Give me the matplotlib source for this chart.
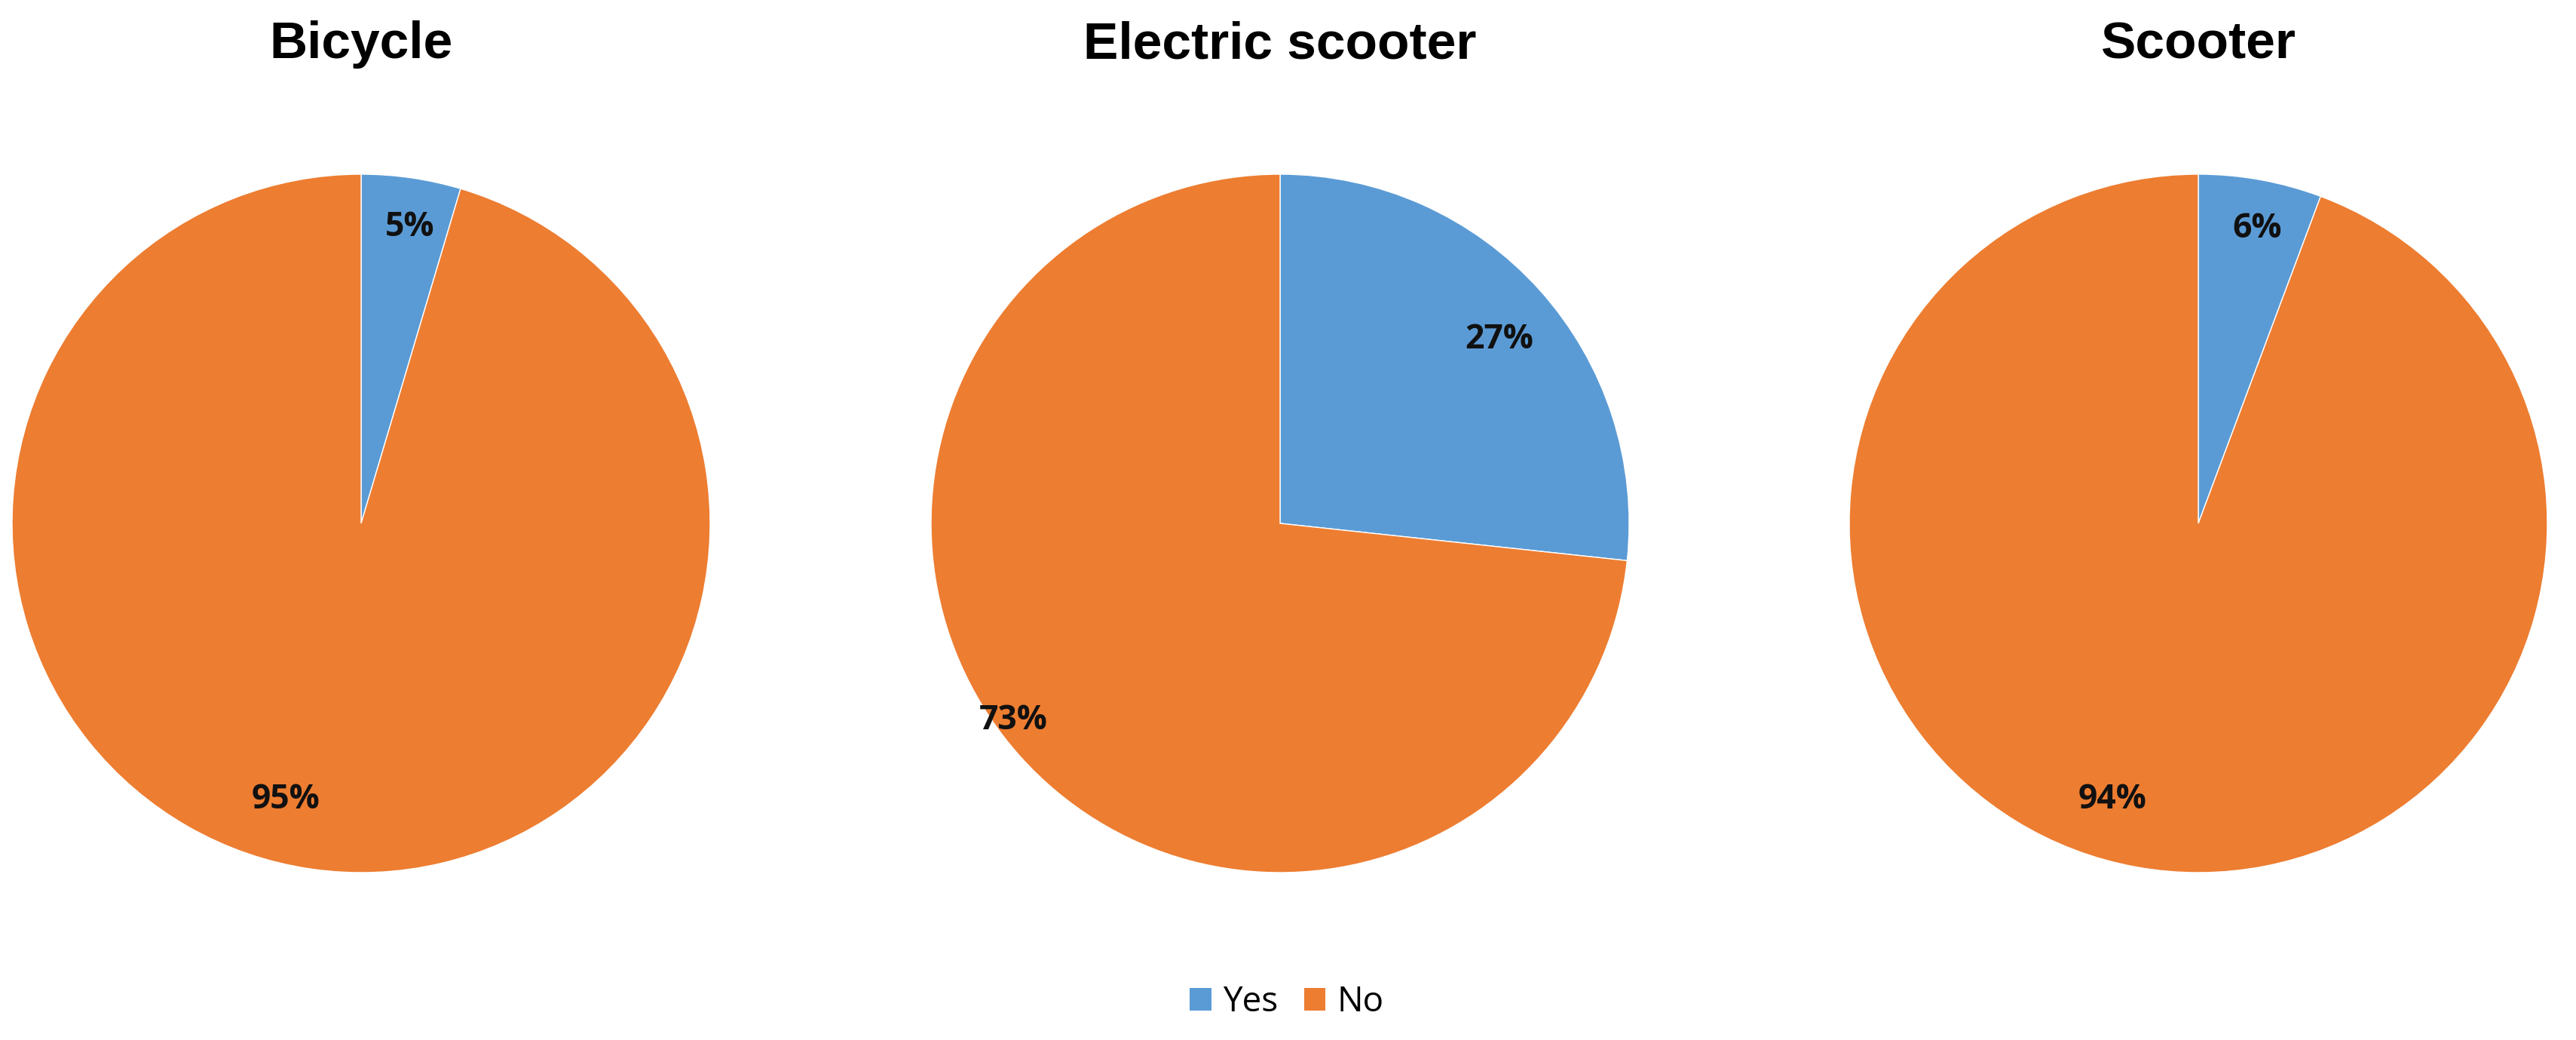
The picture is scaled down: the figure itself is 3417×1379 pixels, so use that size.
import matplotlib
matplotlib.use("Agg")
import matplotlib.pyplot as plt
from matplotlib.patches import Patch
import numpy as np

titles = ["Bicycle", "Electric scooter", "Scooter"]
categories = ["Yes", "No"]
yes_share = [4.6, 26.7, 5.7]
no_share = [95.4, 73.3, 94.3]
labels = [["5%", "95%"], ["27%", "73%"], ["6%", "94%"]]
colors = ["#5B9BD5", "#ED7D31"]

W, H = 3417, 1379
fig = plt.figure(figsize=(W / 100, H / 100), dpi=100)

centers_x = [479, 1698, 2916]
cy = 694
R = 463
label_dist = [[0.86, 0.82], [0.82, 0.95], [0.86, 0.83]]
label_angle_off = [[-1, -7], [-2, -5.5], [-1, -7]]

for i in range(3):
    ax = fig.add_axes([(centers_x[i] - R) / W, 1 - (cy + R) / H, 2 * R / W, 2 * R / H])
    wedges, _ = ax.pie([yes_share[i], no_share[i]], colors=colors, startangle=90,
                       counterclock=False, radius=1,
                       wedgeprops=dict(edgecolor="white", linewidth=1.0))
    ax.set_xlim(-1, 1)
    ax.set_ylim(-1, 1)
    ax.set_aspect("equal")
    ax.axis("off")
    for j, w in enumerate(wedges):
        mid = np.deg2rad((w.theta1 + w.theta2) / 2 + label_angle_off[i][j])
        d = label_dist[i][j]
        ax.text(d * np.cos(mid), d * np.sin(mid), labels[i][j], ha="center", va="center",
                fontsize=32, fontweight="bold", family=["Open Sans", "DejaVu Sans"], color="#111111")
    fig.text(centers_x[i] / W, 1 - 77 / H, titles[i], ha="center", va="baseline",
             fontsize=50, fontweight="bold", family=["Liberation Sans", "DejaVu Sans"])

handles = [Patch(facecolor=colors[0], label=categories[0]),
           Patch(facecolor=colors[1], label=categories[1])]
fig.legend(handles=handles, loc="center", bbox_to_anchor=(1707 / W, 1 - 1329 / H), ncol=2,
           frameon=False, prop={"family": "Open Sans", "size": 33},
           handlelength=0.62, handleheight=0.62, handletextpad=0.34, columnspacing=0.75)

fig.savefig("out.png", dpi=100, facecolor="white")
